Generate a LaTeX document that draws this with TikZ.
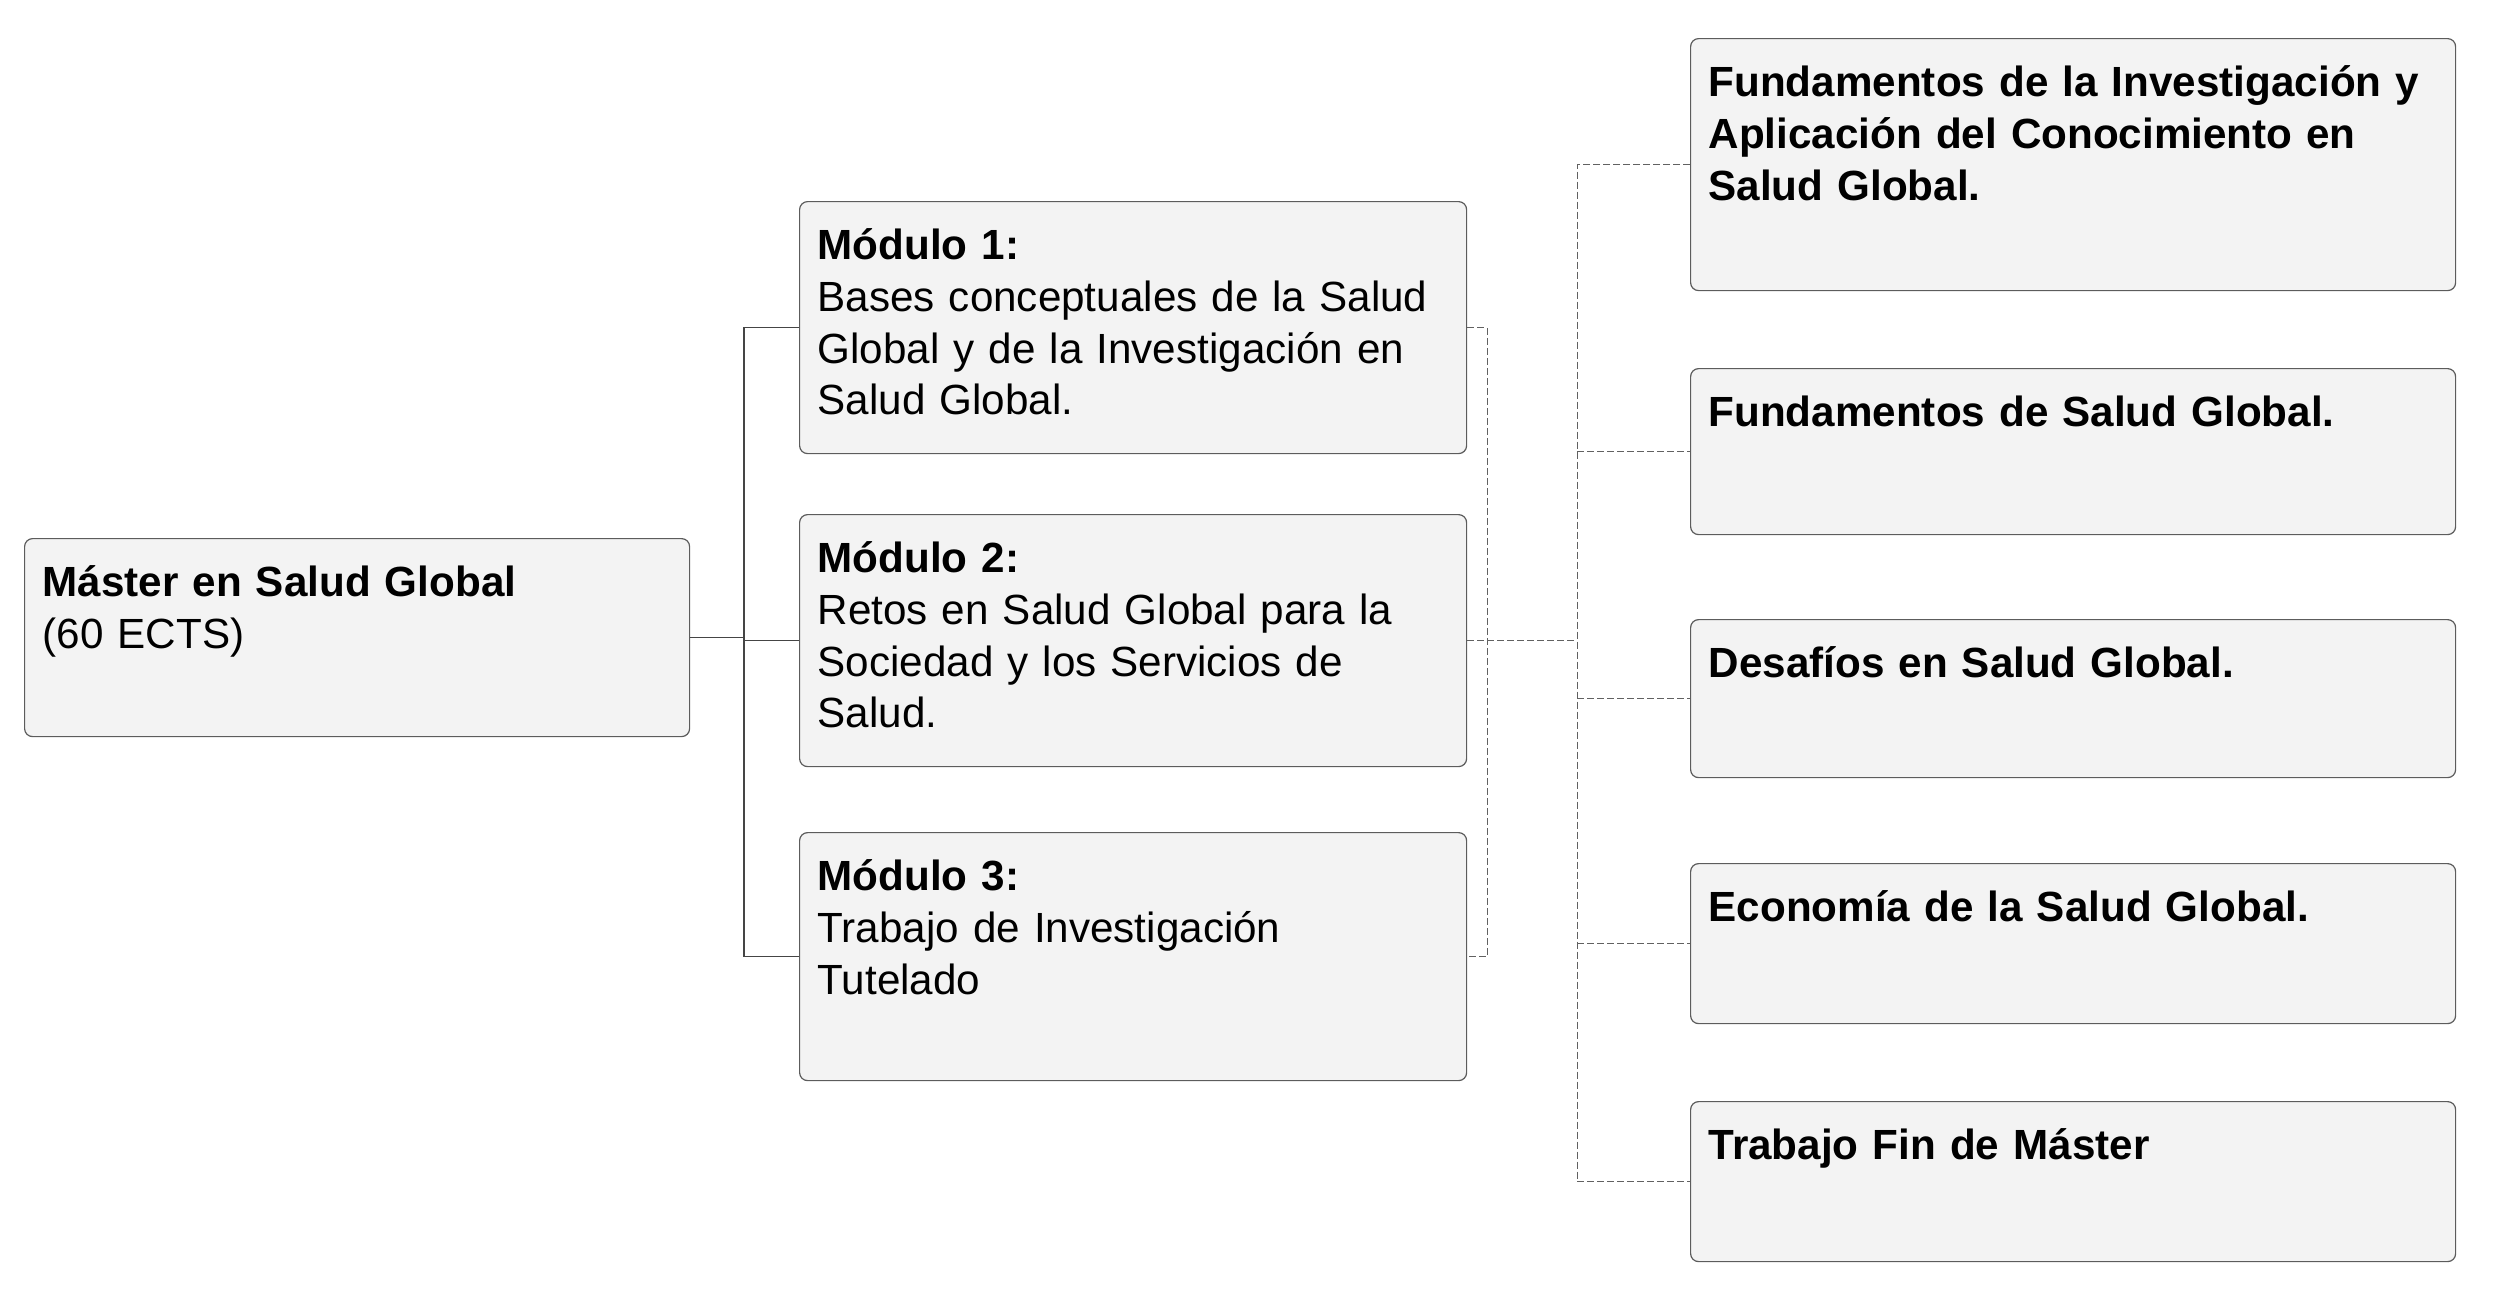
\documentclass[tikz,border=0pt]{standalone}
\usepackage{fontspec}
\setmainfont{Liberation Sans}
\usetikzlibrary{positioning}
\definecolor{boxfill}{HTML}{F3F3F3}
\definecolor{boxline}{HTML}{5C5C5C}
\definecolor{linkline}{HTML}{454545}

\begin{document}
\begin{tikzpicture}[x=0.5pt,y=-0.5pt,
  box/.style={draw=boxline, fill=boxfill, line width=0.6pt, rounded corners=4pt, anchor=north west,
    align=left, inner xsep=9pt, inner ysep=11pt, text height=18pt, font=\fontsize{21.1}{25.85}\selectfont},
  bbox/.style={box, text width=364.5pt, font=\fontsize{21.1}{25.85}\selectfont\bfseries},
  link/.style={draw=linkline, line width=0.6pt},
  dlink/.style={draw=linkline!85, line width=0.5pt, dash pattern=on 3.5pt off 1.5pt}]

            \useasboundingbox (0,0) rectangle (2500,1303);

            \node[box, text width=314.5pt, text depth=59pt] (master) at (24,538) {\textbf{Máster en Salud Global}\\(60 ECTS)};

            \node[box, text width=315.5pt, text depth=86pt] (m1) at (799,201) {\textbf{Módulo 1:}\\Bases conceptuales de la Salud\\Global y de la Investigación en\\Salud Global.};
            \node[box, text width=315.5pt, text depth=86pt] (m2) at (799,514) {\textbf{Módulo 2:}\\Retos en Salud Global para la\\Sociedad y los Servicios de\\Salud.};
            \node[box, text width=315.5pt, text depth=84pt] (m3) at (799,832) {\textbf{Módulo 3:}\\Trabajo de Investigación\\Tutelado};

            \node[bbox, text depth=86pt] (a1) at (1690,38) {Fundamentos de la Investigación y\\Aplicación del Conocimiento en\\Salud Global.};
            \node[bbox, text depth=43pt] (a2) at (1690,368) {Fundamentos de Salud Global.};
            \node[bbox, text depth=39pt] (a3) at (1690,619) {Desafíos en Salud Global.};
            \node[bbox, text depth=40pt] (a4) at (1690,863) {Economía de la Salud Global.};
            \node[bbox, text depth=40pt] (a5) at (1690,1101) {Trabajo Fin de Máster};

            % joints of the connectors
            \coordinate (j1) at (744,0);
            \coordinate (j2) at (1487,0);
            \coordinate (j3) at (1577,0);

            \draw[link] (master.east) -- (master.east -| j1);
            \draw[link] (m1.west) -| (j1 |- m3.west) -- (m3.west);
            \draw[link] (j1 |- m2.west) -- (m2.west);

            \draw[dlink] (m1.east) -| (j2 |- m3.east) -- (m3.east);
            \draw[dlink] (m2.east) -- (m2.east -| j3);
            \draw[dlink] (a1.west) -| (j3 |- a5.west) -- (a5.west);
            \foreach \n in {a2,a3,a4}
              \draw[dlink] (j3 |- \n.west) -- (\n.west);

        \end{tikzpicture}
\end{document}
